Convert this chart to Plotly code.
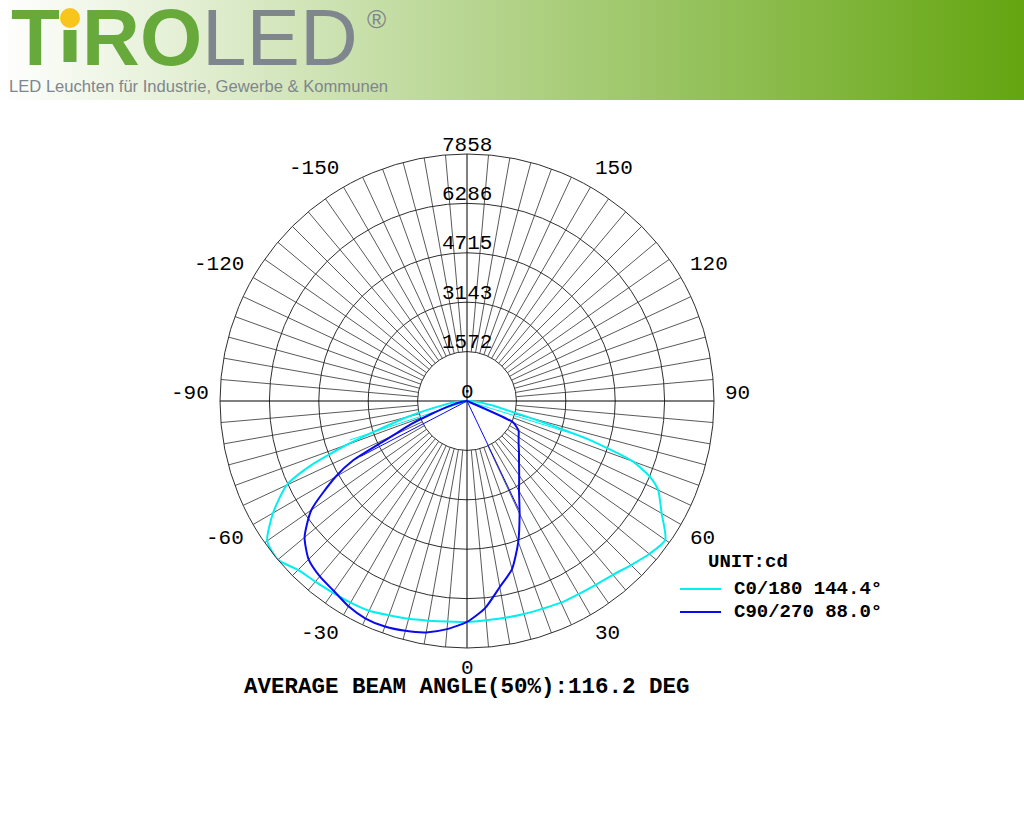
import math
import plotly.graph_objects as go

# ---------------- data ----------------
ring_values = [1572, 3143, 4715, 6286, 7858]
ring_labels = ["1572", "3143", "4715", "6286", "7858"]
r_max = 7858

angle_tick_vals = [0, 30, 60, 90, 120, 150, -150, -120, -90, -60, -30]
angle_tick_text = ["0", "30", "60", "90", "120", "150", "-150", "-120", "-90", "-60", "-30"]

c0_theta = [-90, -85, -80, -75, -70, -67.5, -65, -60, -55, -50, -45, -40, -35, -30, -25, -20, -15, -10, -5,
            0, 5, 10, 15, 20, 25, 30, 35, 40, 45, 50, 55, 60, 65, 67.5, 70, 72.5, 75, 77.5, 80, 85, 90]
c0_cd = [0, 320, 800, 1970, 4070, 5410, 6330, 7125, 7760, 7858, 7600, 7505, 7445, 7410, 7365, 7255, 7175, 7095, 7045,
         7030, 7000, 7000, 7015, 7030, 7080, 7095, 7140, 7220, 7380, 7570, 7700, 7150, 6710, 6300, 5600, 4010, 2130, 1210, 830, 320, 0]

c90_theta = [-90, -85, -80, -75, -70, -67.5, -65, -62.5, -60, -55, -50, -45, -40, -35, -30, -25, -20, -15, -10, -5,
             0, 5, 10, 15, 20, 25, 30, 35, 40, 45, 50, 55, 60, 65, 70, 75, 80, 85, 90]
c90_cd = [0, 60, 190, 480, 1210, 1910, 2610, 4070, 4835, 6045, 6745, 7125, 7285, 7380, 7540, 7635, 7635, 7570, 7475, 7285,
          7030, 6615, 6010, 5535, 4770, 3960, 3310, 2895, 2575, 2340, 2145, 2005, 1895, 1620, 20, 10, 5, 0, 0]

c0_beam_theta = [-71.6, 72.8]
c0_beam_r = 3929
c90_beam_theta = [-62.5, 25.5]
c90_beam_r = 3818

series_names = ["C0/180 144.4°", "C90/270 88.0°"]
beam_text = "AVERAGE BEAM ANGLE(50%):116.2 DEG"
unit_text = "UNIT:cd"

# ---------------- style ----------------
W, H = 1024, 833
CX, CY, R = 467, 401, 247
MONO = "Liberation Mono"
SANS = "Liberation Sans"
CYAN = "#00f0f0"
BLUE = "#0a0aee"
GRID = "#2e2e2e"


def px(x):
    return x / W


def py(y):
    return 1 - y / H


fig = go.Figure()

# spokes every 5 degrees from the first ring outward; main axes through the centre
sp_r, sp_t = [], []
for a in range(0, 360, 5):
    if a % 90 == 0:
        continue
    sp_r += [ring_values[0], r_max, None]
    sp_t += [a, a, None]
fig.add_trace(go.Scatterpolar(r=sp_r, theta=sp_t, mode="lines", line=dict(color=GRID, width=0.8),
                              hoverinfo="skip", showlegend=False))
fig.add_trace(go.Scatterpolar(r=[r_max, 0, r_max, None, r_max, 0, r_max],
                              theta=[0, 0, 180, None, 90, 90, 270], mode="lines",
                              line=dict(color="#000000", width=1), hoverinfo="skip", showlegend=False))

# beam-angle lines
for th in c0_beam_theta:
    fig.add_trace(go.Scatterpolar(r=[0, c0_beam_r], theta=[0, th], mode="lines",
                                  line=dict(color=CYAN, width=1), hoverinfo="skip", showlegend=False))
for th in c90_beam_theta:
    fig.add_trace(go.Scatterpolar(r=[0, c90_beam_r], theta=[0, th], mode="lines",
                                  line=dict(color=BLUE, width=1), hoverinfo="skip", showlegend=False))

fig.add_trace(go.Scatterpolar(r=c0_cd, theta=c0_theta, mode="lines", name=series_names[0],
                              line=dict(color=CYAN, width=2, shape="spline", smoothing=0.6), showlegend=False))
fig.add_trace(go.Scatterpolar(r=c90_cd, theta=c90_theta, mode="lines", name=series_names[1],
                              line=dict(color=BLUE, width=2, shape="spline", smoothing=0.6), showlegend=False))

fig.update_layout(
    width=W, height=H,
    margin=dict(l=0, r=0, t=0, b=0),
    paper_bgcolor="white",
    showlegend=False,
    polar=dict(
        domain=dict(x=[px(CX - R), px(CX + R)], y=[py(CY + R), py(CY - R)]),
        bgcolor="white",
        radialaxis=dict(range=[0, r_max], tickvals=ring_values, showticklabels=False, ticks="",
                        showline=False, showgrid=True, gridcolor=GRID, gridwidth=0.8),
        angularaxis=dict(rotation=270, direction="counterclockwise", showticklabels=False,
                         showgrid=False, ticks="", showline=True, linecolor=GRID, linewidth=1),
    ),
)

GREEN = "#68a93b"
GRAY = "#7f868d"

# header banner gradient
shapes = []
n = 128
g0 = (255, 255, 255)
g1 = (100, 165, 16)
for i in range(n):
    t = (i + 0.5) / n
    c = tuple(int(round(g0[k] + (g1[k] - g0[k]) * t)) for k in range(3))
    shapes.append(dict(type="rect", xref="paper", yref="paper", x0=i / n, x1=(i + 1) / n + 0.001,
                       y0=py(100), y1=1, fillcolor="rgb(%d,%d,%d)" % c, line=dict(width=0), layer="below"))
# stem and yellow dot of the i
shapes.append(dict(type="rect", xref="paper", yref="paper", x0=px(63.5), x1=px(76.5), y0=py(62), y1=py(30),
                   fillcolor=GREEN, line=dict(width=0)))
shapes.append(dict(type="circle", xref="paper", yref="paper", x0=px(60), x1=px(80), y0=py(28), y1=py(8),
                   fillcolor="#f7c51c", line=dict(width=0)))
# legend lines
shapes.append(dict(type="line", xref="paper", yref="paper", x0=px(680), x1=px(721), y0=py(589), y1=py(589),
                   line=dict(color=CYAN, width=2)))
shapes.append(dict(type="line", xref="paper", yref="paper", x0=px(680), x1=px(721), y0=py(612), y1=py(612),
                   line=dict(color=BLUE, width=2)))
fig.update_layout(shapes=shapes)

logo = ("<b><span style='color:%s'>T</span><span style='color:rgba(0,0,0,0)'>ı</span>"
        "<span style='color:%s'>RO</span></b><span style='color:%s'>LED</span>") % (GREEN, GREEN, GRAY)
ann = [
    dict(text=logo, x=px(9), y=py(37), xanchor="left", yanchor="middle", font=dict(family=SANS, size=80)),
    dict(text="®", x=px(376), y=py(19), xanchor="center", yanchor="middle",
         font=dict(family=SANS, size=26, color=GRAY)),
    dict(text="LED Leuchten für Industrie, Gewerbe & Kommunen", x=px(7), y=py(86), xanchor="left",
         yanchor="middle", font=dict(family=SANS, size=16.6, color=GRAY)),
    dict(text="<b>" + unit_text + "</b>", x=px(748), y=py(562), xanchor="center", yanchor="middle",
         font=dict(family=MONO, size=19, color="#000")),
    dict(text="<b>" + series_names[0] + "</b>", x=px(732), y=py(589), xanchor="left", yanchor="middle",
         font=dict(family=MONO, size=19, color="#000")),
    dict(text="<b>" + series_names[1] + "</b>", x=px(732), y=py(612), xanchor="left", yanchor="middle",
         font=dict(family=MONO, size=19, color="#000")),
    dict(text="<b>" + beam_text + "</b>", x=px(467), y=py(687), xanchor="center", yanchor="middle",
         font=dict(family=MONO, size=22.5, color="#000")),
]

# radial labels just above each ring on the upward axis
for v, t in zip([0] + ring_values, ["0"] + ring_labels):
    y = CY - R * v / r_max - 9
    ann.append(dict(text=t, x=px(CX), y=py(y), xanchor="center", yanchor="middle",
                    font=dict(family=MONO, size=21, color="#000")))

# angular tick labels, anchored at a corner just outside the outer ring
LR = 260
for v, t in zip(angle_tick_vals, angle_tick_text):
    a = math.radians(v)
    x = CX + LR * math.sin(a)
    y = CY + LR * math.cos(a)
    if v == 0:
        xa = "center"
    elif v > 0:
        xa = "left"
        x -= 4
    else:
        xa = "right"
        x += 4
    y = y + 7 if abs(v) < 90 else y - 7
    ann.append(dict(text=t, x=px(x), y=py(y), xanchor=xa, yanchor="middle",
                    font=dict(family=MONO, size=21, color="#000")))

for a in ann:
    a.update(xref="paper", yref="paper", showarrow=False)
fig.update_layout(annotations=ann)

fig.write_html("out.html", default_width="1024px", default_height="833px",
               config={"displayModeBar": False},
               post_script="document.body.style.margin='0';document.body.style.overflow='hidden';"
                           "document.documentElement.style.overflow='hidden';")
